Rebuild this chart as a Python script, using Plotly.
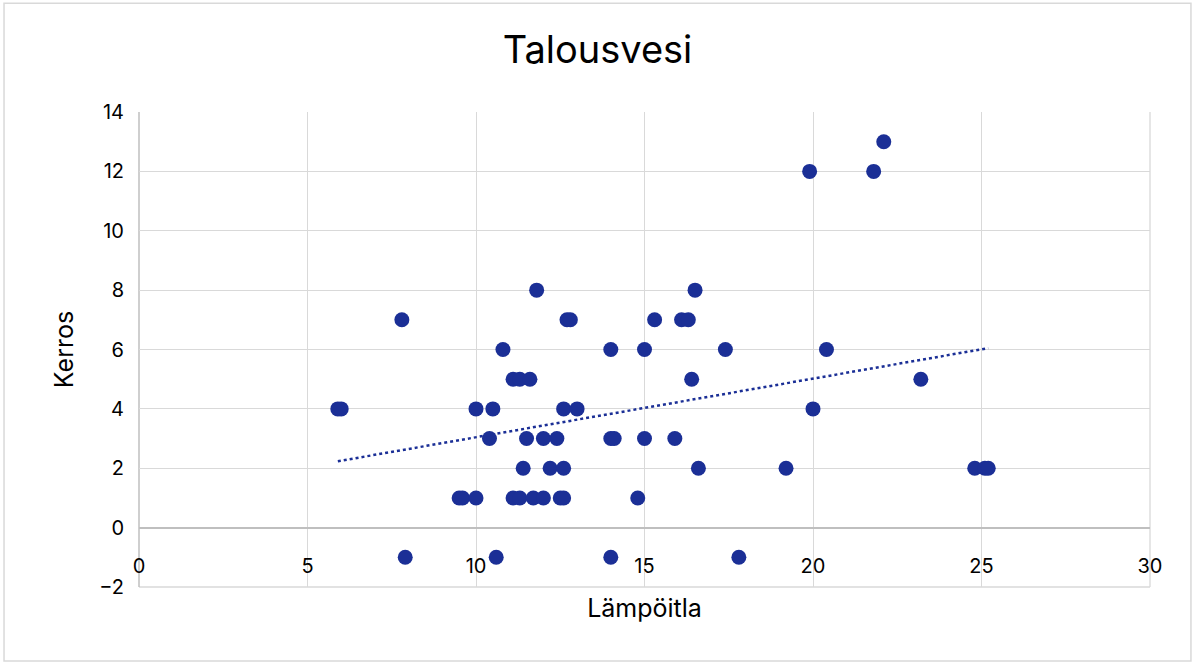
import numpy as np
import plotly.graph_objects as go

# Lämpötila (x) and Kerros (y)
lampotila = [7.8, 11.8, 12.7, 12.8, 10.8, 14.0, 11.1, 11.3, 11.6,
             5.9, 6.0, 10.0, 10.5, 12.6, 13.0,
             10.4, 11.5, 12.0, 12.4, 14.0, 14.1,
             11.4, 12.2, 12.6,
             9.5, 9.6, 10.0, 11.1, 11.3, 11.7, 12.0, 12.5, 12.6,
             7.9, 10.6, 14.0,
             16.5, 15.3, 16.1, 16.3, 15.0, 17.4, 20.4, 16.4, 23.2, 20.0,
             15.0, 15.9, 16.6, 19.2, 14.8, 17.8,
             22.1, 19.9, 21.8, 24.8, 25.1, 25.2]
kerros = [7, 8, 7, 7, 6, 6, 5, 5, 5,
          4, 4, 4, 4, 4, 4,
          3, 3, 3, 3, 3, 3,
          2, 2, 2,
          1, 1, 1, 1, 1, 1, 1, 1, 1,
          -1, -1, -1,
          8, 7, 7, 7, 6, 6, 6, 5, 5, 4,
          3, 3, 2, 2, 1, -1,
          13, 12, 12, 2, 2, 2]

x_ticks = [0, 5, 10, 15, 20, 25, 30]
y_ticks = [-2, 0, 2, 4, 6, 8, 10, 12, 14]

COLOR = "#1B2F96"
FONT = "Inter, Open Sans, sans-serif"

xa = np.array(lampotila)
ya = np.array(kerros)
slope, intercept = np.polyfit(xa, ya, 1)
trend_x = np.array([xa.min(), xa.max()])
trend_y = slope * trend_x + intercept

fig = go.Figure()
fig.add_trace(go.Scatter(
    x=trend_x, y=trend_y, mode="lines",
    line=dict(color=COLOR, width=2.5, dash="dot"),
    hoverinfo="skip", showlegend=False))
fig.add_trace(go.Scatter(
    x=lampotila, y=kerros, mode="markers",
    marker=dict(color=COLOR, size=15, line=dict(width=0)),
    showlegend=False))

fig.update_layout(
    width=1195, height=664,
    margin=dict(l=139, r=45, t=112, b=77),
    paper_bgcolor="white", plot_bgcolor="white",
    font=dict(family=FONT, color="#000000", size=20),
    title=dict(text="Talousvesi", x=0.5, xanchor="center", y=0.925, yanchor="middle",
               font=dict(family=FONT, size=38, color="#000000")),
    xaxis=dict(range=[0, 30], tickvals=x_ticks, showgrid=True, gridcolor="#D9D9D9",
               gridwidth=1.3, zeroline=False, showline=False,
               anchor="free", position=0.125, ticks="", ticklabelstandoff=24,
               title=dict(text="Lämpöitla", standoff=22, font=dict(size=25)),
               tickfont=dict(size=20)),
    yaxis=dict(range=[-2, 14], tickvals=y_ticks, showgrid=True, gridcolor="#D9D9D9",
               gridwidth=1.3, zeroline=True, zerolinecolor="#BFBFBF", zerolinewidth=1.5,
               showline=False, ticks="", ticklabelstandoff=14,
               title=dict(text="Kerros", standoff=18, font=dict(size=25)),
               tickfont=dict(size=20)),
    shapes=[dict(type="rect", xref="paper", yref="paper",
                 x0=-0.1335, x1=1.0405, y0=-0.156, y1=1.229,
                 line=dict(color="#D9D9D9", width=1.5), layer="below"),
            dict(type="line", xref="paper", yref="paper", x0=1, x1=1, y0=0, y1=1,
                 line=dict(color="#D9D9D9", width=1.3), layer="below"),
            dict(type="line", xref="paper", yref="paper", x0=0, x1=1, y0=0, y1=0,
                 line=dict(color="#D9D9D9", width=1.3), layer="below"),
            dict(type="line", xref="paper", yref="paper", x0=0, x1=0, y0=0, y1=1,
                 line=dict(color="#BFBFBF", width=1.5), layer="below")],
)

fig.write_html("out.html", config={"displayModeBar": False},
               post_script="document.body.style.margin='0';document.body.style.padding='0';")
